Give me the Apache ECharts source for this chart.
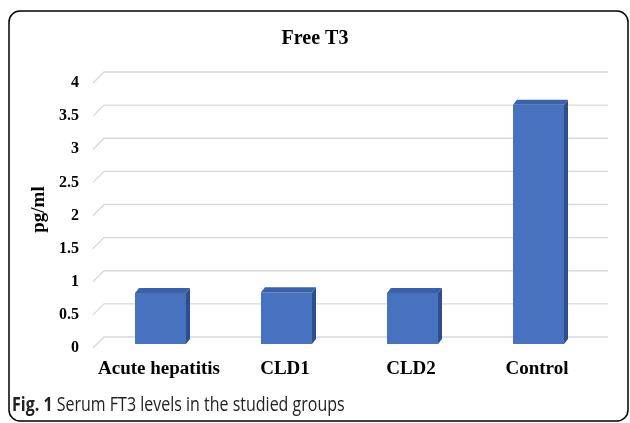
<!DOCTYPE html>
<html><head><meta charset="utf-8">
<script src="https://cdn.jsdelivr.net/npm/echarts@6/dist/echarts.min.js"></script>
<style>html,body{margin:0;padding:0;background:#fff}#c{width:630px;height:423px}</style>
</head><body><div id="c"></div>
<script>
const categories = ['Acute hepatitis', 'CLD1', 'CLD2', 'Control'];
const ft3Values = [0.77, 0.78, 0.77, 3.61];
const yTicks = [0, 0.5, 1, 1.5, 2, 2.5, 3, 3.5, 4];
const titleText = 'Free T3';
const yAxisName = 'pg/ml';
const captionBold = 'Fig. 1';
const captionText = ' Serum FT3 levels in the studied groups';

const chart = echarts.init(document.getElementById('c'), null, {renderer: 'canvas'});
const WALL_DX = 11, WALL_DY = -11;
const BAR_OFF_X = 4.5, BAR_OFF_Y = -4, BAR_W = 51, BAR_DX = 4, BAR_DY = -5;
const SERIF = '"Liberation Serif", "Times New Roman", serif';
const CAP = '"Open Sans", "Noto Sans", sans-serif';

const option = {
  animation: false,
  title: [{
    text: titleText, left: 'center', top: 24,
    textStyle: {fontFamily: SERIF, fontWeight: 'bold', fontSize: 20, color: '#000'}
  }],
  graphic: [{
    type: 'rect', silent: true,
    shape: {x: 9, y: 11, width: 619, height: 410, r: 11},
    style: {fill: 'none', stroke: '#000', lineWidth: 1.5}
  }, {
    type: 'text', silent: true,
    x: 12, y: 405, scaleX: 0.8, originX: 0,
    style: {
      text: '{b|' + captionBold + '}{r|' + captionText + '}',
      verticalAlign: 'middle', align: 'left',
      rich: {
        b: {fontFamily: CAP, fontWeight: 'bold', fontSize: 20, fill: '#222'},
        r: {fontFamily: CAP, fontWeight: 'normal', fontSize: 20, fill: '#222'}
      }
    }
  }],
  grid: {left: 93, right: 33, top: 83, bottom: 75},
  xAxis: {
    type: 'category', data: categories,
    axisLine: {show: false}, axisTick: {show: false},
    axisLabel: {interval: 0, margin: 12, padding: [0, 0, 0, 6], fontFamily: SERIF, fontWeight: 'bold', fontSize: 19, color: '#000'}
  },
  yAxis: {
    type: 'value', min: 0, max: 4, interval: 0.5,
    axisLine: {show: false}, axisTick: {show: false}, splitLine: {show: false},
    axisLabel: {margin: 14, fontFamily: SERIF, fontWeight: 'bold', fontSize: 16, color: '#000'},
    name: yAxisName, nameLocation: 'middle', nameGap: 37, nameRotate: 90,
    nameTextStyle: {fontFamily: SERIF, fontWeight: 'bold', fontSize: 19, color: '#000', padding: [0, 0, 0, 12]}
  },
  series: [{
    type: 'custom', z: 1, silent: true,
    data: yTicks.map(v => [0, v]),
    renderItem: function (params, api) {
      const p = api.coord([0, api.value(1)]);
      const cs = params.coordSys;
      const y = p[1];
      return {
        type: 'polyline',
        shape: {points: [[cs.x, y], [cs.x + WALL_DX, y + WALL_DY], [cs.x + cs.width + WALL_DX, y + WALL_DY]]},
        style: {stroke: '#d9d9d9', lineWidth: 1.4, fill: null}
      };
    }
  }, {
    type: 'custom', z: 3, silent: true,
    data: ft3Values.map((v, i) => [i, v]),
    renderItem: function (params, api) {
      const base = api.coord([api.value(0), 0]);
      const top = api.coord([api.value(0), api.value(1)]);
      const xl = base[0] + BAR_OFF_X - BAR_W / 2;
      const xr = xl + BAR_W;
      const yb = base[1] + BAR_OFF_Y;
      const yt = top[1] + BAR_OFF_Y;
      return {
        type: 'group',
        children: [{
          type: 'polygon',
          shape: {points: [[xr, yt], [xr + BAR_DX, yt + BAR_DY], [xr + BAR_DX, yb + BAR_DY], [xr, yb]]},
          style: {fill: '#2f4f8c'}
        }, {
          type: 'polygon',
          shape: {points: [[xl, yt], [xl + BAR_DX, yt + BAR_DY], [xr + BAR_DX, yt + BAR_DY], [xr, yt]]},
          style: {fill: '#3a62aa'}
        }, {
          type: 'rect',
          shape: {x: xl, y: yt, width: BAR_W, height: yb - yt},
          style: {fill: '#4672bf'}
        }]
      };
    }
  }]
};
chart.setOption(option);
</script>
</body></html>
